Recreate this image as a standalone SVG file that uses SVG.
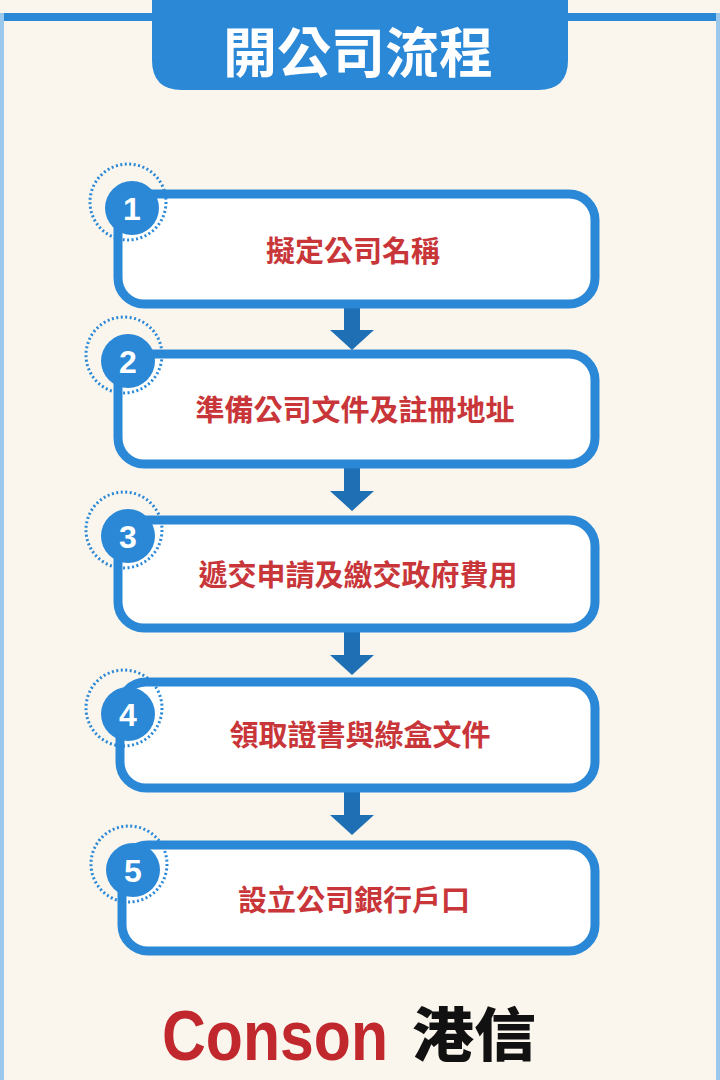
<svg xmlns="http://www.w3.org/2000/svg" width="720" height="1080" viewBox="0 0 720 1080">
<defs>
<style>
.box{fill:#fff;stroke:#2a88d6;stroke-width:9}
.num{fill:#2a88d6}
.ring{fill:none;stroke:#2a88d6;stroke-width:3;stroke-dasharray:2 2.5}
.nt{font-family:"Liberation Sans",Arial,sans-serif;font-weight:bold;font-size:32px;fill:#fff;text-anchor:middle}
.lbl{font-family:"Noto Sans CJK TC","Noto Sans",sans-serif;font-weight:bold;font-size:29px;fill:#c8363a;text-anchor:middle}
.arr{fill:#1f6fb5}
</style>
</defs>
<rect width="720" height="1080" fill="#faf6ee"/>
<rect x="0" y="13" width="720" height="8" fill="#2a88d6"/>
<rect x="0" y="13" width="4" height="1067" fill="#9cc8ee"/>
<rect x="716" y="13" width="4" height="1067" fill="#9cc8ee"/>
<g id="header">
<path d="M152 0 H568 V60 Q568 90 538 90 H182 Q152 90 152 60 Z" fill="#2a88d6"/>
<text x="358" y="73" font-family="Noto Sans CJK TC,sans-serif" font-weight="bold" font-size="54" fill="#fff" text-anchor="middle">開公司流程</text>
</g>
<g id="connectors">
<path class="arr" d="M344 306 h16 v24 h14 l-22 20 l-22 -20 h14 z"/>
<path class="arr" d="M344 467 h16 v24 h14 l-22 20 l-22 -20 h14 z"/>
<path class="arr" d="M344 631 h16 v24 h14 l-22 20 l-22 -20 h14 z"/>
<path class="arr" d="M344 791 h16 v24 h14 l-22 20 l-22 -20 h14 z"/>
</g>
<g id="step1"><rect class="box" x="118" y="194" width="477" height="110" rx="26"/><circle class="ring" cx="128" cy="202" r="38"/><circle class="num" cx="132" cy="208" r="27"/><text class="nt" x="132" y="220">1</text><text class="lbl" x="353" y="262">擬定公司名稱</text></g>
<g id="step2"><rect class="box" x="118" y="354" width="477" height="110" rx="26"/><circle class="ring" cx="124" cy="355" r="38"/><circle class="num" cx="128" cy="361" r="27"/><text class="nt" x="128" y="373">2</text><text class="lbl" x="355" y="421">準備公司文件及註冊地址</text></g>
<g id="step3"><rect class="box" x="118" y="520" width="477" height="108" rx="26"/><circle class="ring" cx="124" cy="530" r="38"/><circle class="num" cx="128" cy="536" r="27"/><text class="nt" x="128" y="548">3</text><text class="lbl" x="358" y="586">遞交申請及繳交政府費用</text></g>
<g id="step4"><rect class="box" x="120" y="682" width="475" height="106" rx="26"/><circle class="ring" cx="124" cy="708" r="38"/><circle class="num" cx="128" cy="714" r="27"/><text class="nt" x="128" y="726">4</text><text class="lbl" x="360" y="746">領取證書與綠盒文件</text></g>
<g id="step5"><rect class="box" x="122" y="845" width="473" height="106" rx="26"/><circle class="ring" cx="129" cy="864" r="38"/><circle class="num" cx="133" cy="870" r="27"/><text class="nt" x="133" y="882">5</text><text class="lbl" x="354" y="911">設立公司銀行戶口</text></g>
<g id="logo">
<text x="162" y="1060" font-family="Liberation Sans,Arial,sans-serif" font-weight="bold" font-size="70" fill="#c0282e" textLength="226" lengthAdjust="spacingAndGlyphs">Conson</text>
<text x="412" y="1056" font-family="Noto Sans CJK TC,sans-serif" font-weight="900" font-size="58" fill="#111" textLength="124" lengthAdjust="spacingAndGlyphs">港信</text>
</g>
</svg>
